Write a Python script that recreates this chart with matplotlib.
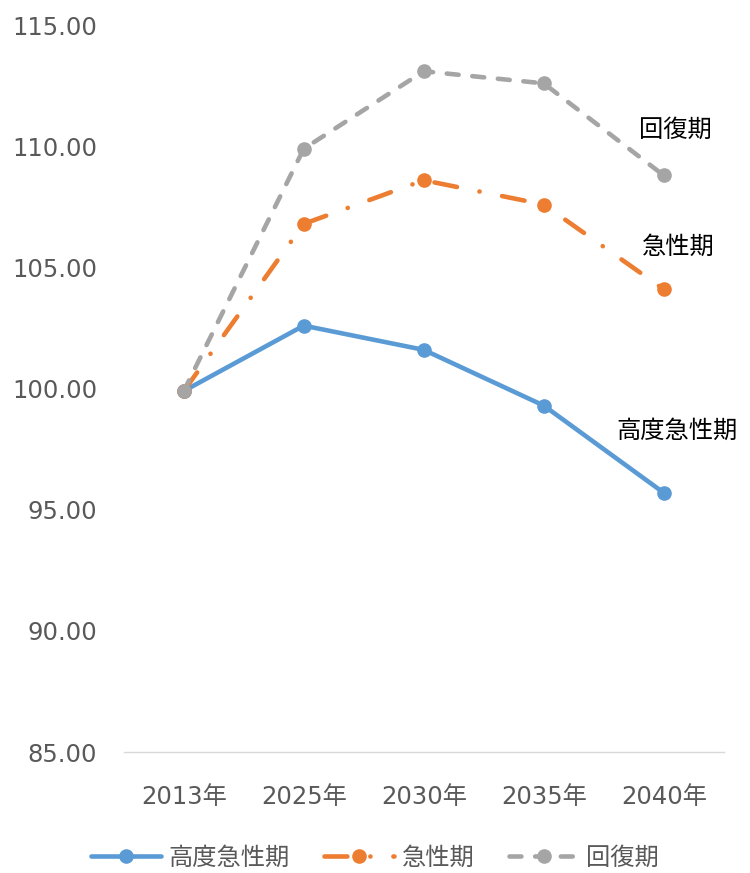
import numpy as np
import matplotlib.pyplot as plt

plt.rcParams['font.family'] = ['DejaVu Sans', 'Noto Sans CJK JP']

years = ['2013年', '2025年', '2030年', '2035年', '2040年']
high_acute = [99.9, 102.6, 101.6, 99.3, 95.7]   # 高度急性期
acute = [99.9, 106.8, 108.6, 107.6, 104.1]      # 急性期
recovery = [99.9, 109.9, 113.1, 112.6, 108.8]   # 回復期

blue = '#5B9BD5'
orange = '#ED7D31'
gray = '#A5A5A5'
txt = '#595959'
fs = 17.5

fig = plt.figure(figsize=(7.5, 8.73), dpi=100)
ax = fig.add_axes([0.165, 0.1386, 0.8, 0.8325])

x = np.arange(len(years))
ax.plot(x, high_acute, color=blue, lw=3.3, marker='o', ms=9.5,
        solid_capstyle='round', label='高度急性期', zorder=3)
ax.plot(x, acute, color=orange, lw=3.3, marker='o', ms=9.5,
        dashes=(5.0, 5.0, 0.03, 5.0), dash_capstyle='round', label='急性期', zorder=3)
ax.plot(x, recovery, color=gray, lw=3.3, marker='o', ms=9.5,
        dashes=(2.6, 3.0), dash_capstyle='round', label='回復期', zorder=3)

ax.set_xlim(-0.5, 4.5)
ax.set_ylim(85, 115)
ax.set_yticks(np.arange(85, 116, 5))
ax.set_yticklabels(['%.2f' % v for v in np.arange(85, 116, 5)])
ax.set_xticks(x)
ax.set_xticklabels(years)
ax.tick_params(axis='y', length=0, pad=19, labelsize=fs, labelcolor=txt)
ax.tick_params(axis='x', length=0, pad=24, labelsize=fs, labelcolor=txt)

for s in ['top', 'right', 'left']:
    ax.spines[s].set_visible(False)
ax.spines['bottom'].set_color('#D9D9D9')
ax.spines['bottom'].set_linewidth(1)

ax.text(4.1, 110.67, '回復期', ha='center', va='center', fontsize=fs, color='black', clip_on=False)
ax.text(4.12, 105.84, '急性期', ha='center', va='center', fontsize=fs, color='black', clip_on=False)
ax.text(4.11, 98.24, '高度急性期', ha='center', va='center', fontsize=fs, color='black', clip_on=False)

fig.legend(loc='center', bbox_to_anchor=(0.5, 1 - 858 / 873), ncol=3, frameon=False,
           fontsize=fs, labelcolor=txt, handlelength=2.9, columnspacing=1.4, handletextpad=0.3)

fig.savefig('out.png', dpi=100)
